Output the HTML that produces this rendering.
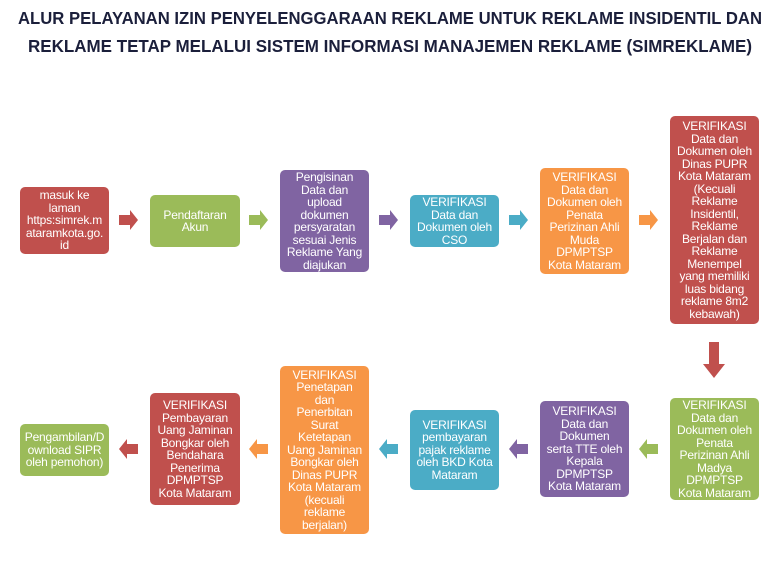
<!DOCTYPE html>
<html><head><meta charset="utf-8"><style>
body{margin:0;width:781px;height:585px;background:#fff;position:relative;overflow:hidden;font-family:"Liberation Sans",sans-serif}
.b{position:absolute;border-radius:5px;color:#fff;font-size:12px;line-height:12.5px;text-align:center;display:flex;align-items:center;justify-content:center;box-sizing:border-box;white-space:nowrap;letter-spacing:-0.2px}
.r{background:#c0504d}.g{background:#9bbb59}.p{background:#8064a2}.bl{background:#4bacc6}.o{background:#f79646}
svg{position:absolute;left:0;top:0}
</style></head><body>
<svg width="781" height="585">
<text x="390" y="24" text-anchor="middle" textLength="744" lengthAdjust="spacingAndGlyphs" font-family="Liberation Sans" font-weight="bold" font-size="17.5" fill="#1b1f3b">ALUR PELAYANAN IZIN PENYELENGGARAAN REKLAME UNTUK REKLAME INSIDENTIL DAN</text>
<text x="390" y="52" text-anchor="middle" textLength="724" lengthAdjust="spacingAndGlyphs" font-family="Liberation Sans" font-weight="bold" font-size="17.5" fill="#1b1f3b">REKLAME TETAP MELALUI SISTEM INFORMASI MANAJEMEN REKLAME (SIMREKLAME)</text>
<g>
<polygon points="119,215 130,215 130,210 138,220 130,230 130,225 119,225" fill="#c0504d"/>
<polygon points="249,215 260,215 260,210 268,220 260,230 260,225 249,225" fill="#9bbb59"/>
<polygon points="379,215 390,215 390,210 398,220 390,230 390,225 379,225" fill="#8064a2"/>
<polygon points="509,215 520,215 520,210 528,220 520,230 520,225 509,225" fill="#4bacc6"/>
<polygon points="639,215 650,215 650,210 658,220 650,230 650,225 639,225" fill="#f79646"/>
<polygon points="709,342 719,342 719,364 725,364 714,378 703,364 709,364" fill="#c0504d"/>
<polygon points="658,444 647,444 647,439 639,449 647,459 647,454 658,454" fill="#9bbb59"/>
<polygon points="528,444 517,444 517,439 509,449 517,459 517,454 528,454" fill="#8064a2"/>
<polygon points="398,444 387,444 387,439 379,449 387,459 387,454 398,454" fill="#4bacc6"/>
<polygon points="268,444 257,444 257,439 249,449 257,459 257,454 268,454" fill="#f79646"/>
<polygon points="138,444 127,444 127,439 119,449 127,459 127,454 138,454" fill="#c0504d"/>
</g>
</svg>
<div class="b r" style="left:20px;top:187px;width:89px;height:67px">masuk ke<br>laman<br>https:simrek.m<br>ataramkota.go.<br>id</div>
<div class="b g" style="left:150px;top:195px;width:90px;height:52px">Pendaftaran<br>Akun</div>
<div class="b p" style="left:280px;top:170px;width:89px;height:102px">Pengisinan<br>Data dan<br>upload<br>dokumen<br>persyaratan<br>sesuai Jenis<br>Reklame Yang<br>diajukan</div>
<div class="b bl" style="left:410px;top:195px;width:89px;height:52px">VERIFIKASI<br>Data dan<br>Dokumen oleh<br>CSO</div>
<div class="b o" style="left:540px;top:168px;width:89px;height:106px">VERIFIKASI<br>Data dan<br>Dokumen oleh<br>Penata<br>Perizinan Ahli<br>Muda<br>DPMPTSP<br>Kota Mataram</div>
<div class="b r" style="left:670px;top:116px;width:89px;height:208px">VERIFIKASI<br>Data dan<br>Dokumen oleh<br>Dinas PUPR<br>Kota Mataram<br>(Kecuali<br>Reklame<br>Insidentil,<br>Reklame<br>Berjalan dan<br>Reklame<br>Menempel<br>yang memiliki<br>luas bidang<br>reklame 8m2<br>kebawah)</div>
<div class="b g" style="left:670px;top:398px;width:89px;height:102px">VERIFIKASI<br>Data dan<br>Dokumen oleh<br>Penata<br>Perizinan Ahli<br>Madya<br>DPMPTSP<br>Kota Mataram</div>
<div class="b p" style="left:540px;top:401px;width:89px;height:96px">VERIFIKASI<br>Data dan<br>Dokumen<br>serta TTE oleh<br>Kepala<br>DPMPTSP<br>Kota Mataram</div>
<div class="b bl" style="left:410px;top:410px;width:89px;height:80px">VERIFIKASI<br>pembayaran<br>pajak reklame<br>oleh BKD Kota<br>Mataram</div>
<div class="b o" style="left:280px;top:366px;width:89px;height:168px">VERIFIKASI<br>Penetapan<br>dan<br>Penerbitan<br>Surat<br>Ketetapan<br>Uang Jaminan<br>Bongkar oleh<br>Dinas PUPR<br>Kota Mataram<br>(kecuali<br>reklame<br>berjalan)</div>
<div class="b r" style="left:150px;top:393px;width:90px;height:112px">VERIFIKASI<br>Pembayaran<br>Uang Jaminan<br>Bongkar oleh<br>Bendahara<br>Penerima<br>DPMPTSP<br>Kota Mataram</div>
<div class="b g" style="left:20px;top:424px;width:89px;height:52px">Pengambilan/D<br>ownload SIPR<br>oleh pemohon)</div>
</body></html>
